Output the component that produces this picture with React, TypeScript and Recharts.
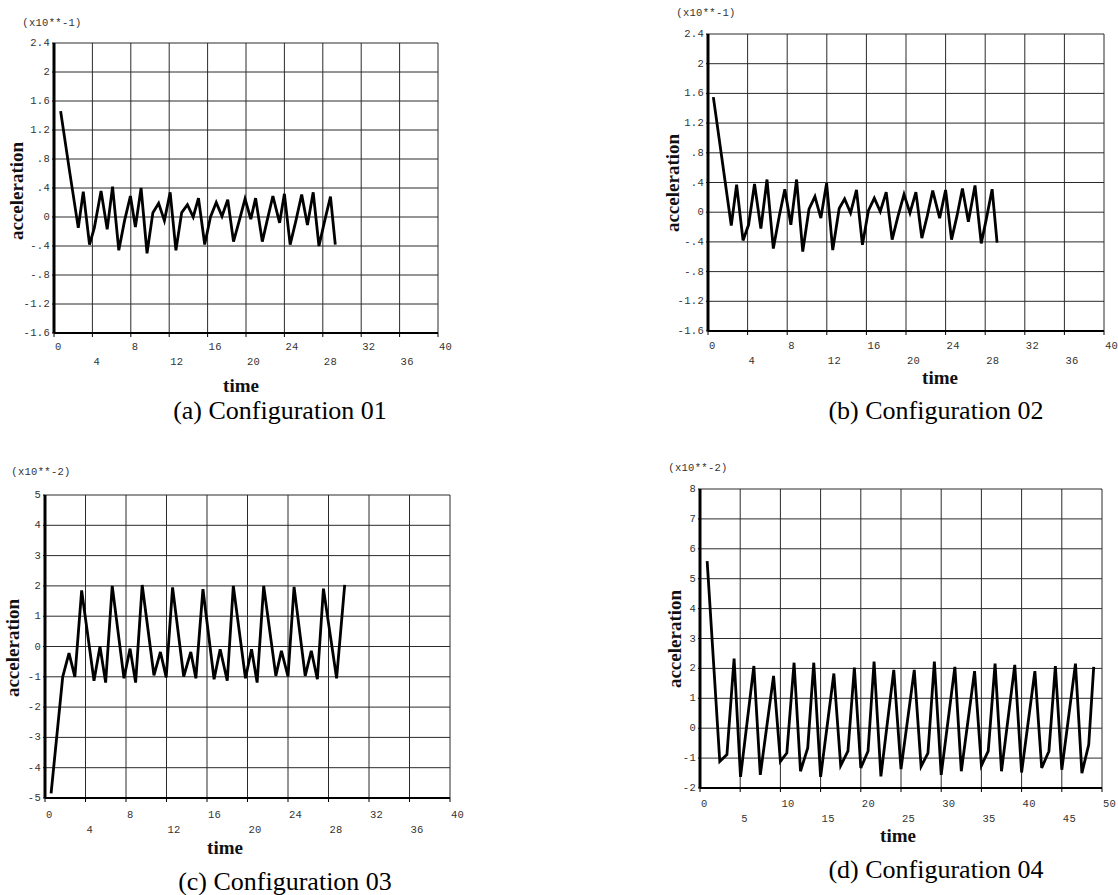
import React from 'react';
import { LineChart, Line, XAxis, YAxis, CartesianGrid } from 'recharts';

// ---------- data ----------
const timeA = [0.69, 1.6, 2.53, 3.05, 3.7, 4.2, 4.9, 5.54, 6.1, 6.75, 7.35, 7.96, 8.48, 9.07, 9.69, 10.3, 10.9, 11.5, 12.1, 12.7, 13.3, 13.9, 14.5, 15.05, 15.7, 16.3, 16.9, 17.5, 18.1, 18.7, 19.3, 19.9, 20.5, 21.0, 21.7, 22.2, 22.8, 23.5, 24.0, 24.6, 25.2, 25.8, 26.4, 27.0, 27.6, 28.2, 28.8, 29.3];
const accelA = [1.46, 0.65, -0.15, 0.35, -0.38, -0.15, 0.36, -0.17, 0.42, -0.46, -0.05, 0.29, -0.14, 0.40, -0.50, 0.06, 0.19, -0.05, 0.34, -0.46, 0.06, 0.17, 0.0, 0.26, -0.38, 0.0, 0.2, 0.01, 0.24, -0.34, -0.05, 0.25, -0.03, 0.26, -0.34, -0.05, 0.29, -0.08, 0.32, -0.38, -0.05, 0.31, -0.11, 0.34, -0.40, -0.05, 0.28, -0.38];

const timeB = [0.54, 2.35, 2.89, 3.54, 4.1, 4.7, 5.34, 5.96, 6.6, 7.2, 7.76, 8.37, 8.95, 9.57, 10.2, 10.8, 11.4, 11.98, 12.6, 13.25, 13.8, 14.4, 15.0, 15.6, 16.2, 16.8, 17.4, 18.0, 18.6, 19.2, 19.8, 20.4, 21.0, 21.6, 22.15, 22.7, 23.4, 24.0, 24.6, 25.15, 25.7, 26.3, 26.97, 27.6, 28.1, 28.7, 29.2];
const accelB = [1.55, -0.18, 0.37, -0.38, -0.17, 0.38, -0.22, 0.44, -0.49, -0.05, 0.31, -0.17, 0.44, -0.53, 0.04, 0.21, -0.08, 0.39, -0.51, 0.05, 0.18, -0.01, 0.30, -0.44, 0.02, 0.19, 0.01, 0.27, -0.37, -0.05, 0.24, -0.01, 0.27, -0.35, -0.05, 0.29, -0.08, 0.30, -0.37, -0.05, 0.32, -0.13, 0.36, -0.42, -0.1, 0.31, -0.41];

const timeC = [0.6, 1.75, 2.37, 2.95, 3.62, 4.84, 5.43, 5.99, 6.64, 7.8, 8.4, 8.95, 9.6, 10.76, 11.4, 11.97, 12.6, 13.7, 14.4, 14.9, 15.6, 16.7, 17.3, 18.0, 18.6, 19.8, 20.4, 20.95, 21.6, 22.8, 23.35, 24.0, 24.6, 25.7, 26.3, 26.9, 27.5, 28.8, 29.6];
const accelC = [-4.85, -1.0, -0.22, -1.0, 1.85, -1.13, 0, -1.19, 2.0, -1.05, -0.07, -1.19, 2.03, -0.95, -0.18, -1.02, 1.95, -0.99, -0.18, -1.05, 1.89, -1.08, -0.09, -1.13, 2.0, -1.05, -0.09, -1.19, 2.0, -0.97, -0.14, -0.99, 1.97, -0.97, -0.14, -1.08, 1.91, -1.05, 2.03];

const timeD = [0.89, 2.46, 3.35, 4.24, 5.04, 6.7, 7.5, 9.15, 10.0, 10.8, 11.7, 12.5, 13.4, 14.15, 15.0, 16.65, 17.5, 18.4, 19.2, 20.0, 20.9, 21.65, 22.5, 24.1, 25.0, 26.65, 27.5, 28.35, 29.15, 30.0, 31.7, 32.5, 34.15, 35.0, 35.85, 36.7, 37.5, 39.15, 40.0, 41.65, 42.5, 43.4, 44.2, 45.0, 46.7, 47.5, 48.35, 48.97];
const accelD = [5.59, -1.11, -0.88, 2.33, -1.63, 2.08, -1.56, 1.75, -1.11, -0.83, 2.19, -1.44, -0.66, 2.19, -1.63, 1.83, -1.25, -0.77, 2.03, -1.33, -0.77, 2.23, -1.61, 1.95, -1.37, 1.95, -1.28, -0.83, 2.23, -1.56, 2.05, -1.44, 1.91, -1.25, -0.77, 2.16, -1.44, 2.12, -1.48, 1.91, -1.33, -0.77, 2.08, -1.39, 2.16, -1.5, -0.55, 2.05];

const xTicks40 = [0, 4, 8, 12, 16, 20, 24, 28, 32, 36, 40];
const xTicks50 = [0, 5, 10, 15, 20, 25, 30, 35, 40, 45, 50];
const yTicksAB = [-1.6, -1.2, -0.8, -0.4, 0, 0.4, 0.8, 1.2, 1.6, 2, 2.4];
const yLabelsAB = ['-1.6', '-1.2', '-.8', '-.4', '0', '.4', '.8', '1.2', '1.6', '2', '2.4'];
const yTicksC = [-5, -4, -3, -2, -1, 0, 1, 2, 3, 4, 5];
const yLabelsC = ['-5', '-4', '-3', '-2', '-1', '0', '1', '2', '3', '4', '5'];
const yTicksD = [-2, -1, 0, 1, 2, 3, 4, 5, 6, 7, 8];
const yLabelsD = ['-2', '-1', '0', '1', '2', '3', '4', '5', '6', '7', '8'];

const captions = ['(a) Configuration 01', '(b) Configuration 02', '(c) Configuration 03', '(d) Configuration 04'];
const scaleLabels = ['(x10**-1)', '(x10**-1)', '(x10**-2)', '(x10**-2)'];
const yTitle = 'acceleration';
const xTitle = 'time';

// ---------- layout ----------
type Panel = {
  time: number[]; accel: number[]; xTicks: number[]; yTicks: number[]; yLabels: string[];
  x0: number; x1: number; top: number; bottom: number; row1: number; row2: number;
  caption: string; scale: string;
  scaleX: number; scaleY: number; accX: number; accY: number; timeX: number; timeY: number; capX: number; capY: number;
};

const panels: Panel[] = [
  { time: timeA, accel: accelA, xTicks: xTicks40, yTicks: yTicksAB, yLabels: yLabelsAB,
    x0: 54, x1: 438, top: 43, bottom: 333, row1: 14, row2: 28.5, caption: captions[0], scale: scaleLabels[0],
    scaleX: 52, scaleY: 23, accX: 16, accY: 191, timeX: 241, timeY: 385, capX: 280, capY: 411 },
  { time: timeB, accel: accelB, xTicks: xTicks40, yTicks: yTicksAB, yLabels: yLabelsAB,
    x0: 708, x1: 1104, top: 34, bottom: 331, row1: 15, row2: 29.5, caption: captions[1], scale: scaleLabels[1],
    scaleX: 706, scaleY: 12.5, accX: 671.5, accY: 183, timeX: 940, timeY: 377, capX: 936, capY: 411 },
  { time: timeC, accel: accelC, xTicks: xTicks40, yTicks: yTicksC, yLabels: yLabelsC,
    x0: 45, x1: 450, top: 495, bottom: 798, row1: 16.5, row2: 31.5, caption: captions[2], scale: scaleLabels[2],
    scaleX: 41, scaleY: 472, accX: 12, accY: 648, timeX: 225, timeY: 847, capX: 285, capY: 882 },
  { time: timeD, accel: accelD, xTicks: xTicks50, yTicks: yTicksD, yLabels: yLabelsD,
    x0: 700, x1: 1102, top: 489, bottom: 788, row1: 15.5, row2: 31, caption: captions[3], scale: scaleLabels[3],
    scaleX: 698, scaleY: 468, accX: 674, accY: 639, timeX: 898, timeY: 835, capX: 936, capY: 870 },
];

const ML = 60, MT = 10, MR = 14, MB = 50, YW = 55, XH = 40;
const mono = '"Liberation Mono", "DejaVu Sans Mono", monospace';
const serif = '"Liberation Serif", "DejaVu Serif", serif';

function ChartPanel({ p }: { p: Panel }) {
  const w = p.x1 - p.x0;
  const h = p.bottom - p.top;
  const data = p.time.map((t, i) => ({ t, v: p.accel[i] }));
  const xDomain = [p.xTicks[0], p.xTicks[p.xTicks.length - 1]];
  const yDomain = [p.yTicks[0], p.yTicks[p.yTicks.length - 1]];

  const renderXTick = (props: any) => {
    const { x, y, payload } = props;
    const idx = p.xTicks.findIndex((v) => Math.abs(v - payload.value) < 1e-9);
    const axisY = y - 6;
    const dy = idx % 2 === 0 ? p.row1 : p.row2;
    return (
      <text x={x + 1} y={axisY + dy} textAnchor="start" dominantBaseline="central"
        fontFamily={mono} fontSize={10.5} fill="#333" letterSpacing={0.3}>{payload.value}</text>
    );
  };
  const renderYTick = (props: any) => {
    const { x, y, payload } = props;
    const idx = p.yTicks.findIndex((v) => Math.abs(v - payload.value) < 1e-9);
    return (
      <text x={x} y={y} textAnchor="end" dominantBaseline="central"
        fontFamily={mono} fontSize={10.5} fill="#333" letterSpacing={0.3}>{p.yLabels[idx]}</text>
    );
  };

  return (
    <div style={{ position: 'absolute', left: p.x0 - ML, top: p.top - MT }}>
      <LineChart width={w + ML + MR} height={h + MT + MB} data={data}
        margin={{ top: MT, right: MR, bottom: MB - XH, left: ML - YW }}>
        <CartesianGrid stroke="#2a2a2a" strokeWidth={1} />
        <XAxis type="number" dataKey="t" domain={xDomain} ticks={p.xTicks} interval={0}
          height={XH} tickSize={4} tickMargin={2} allowDataOverflow
          axisLine={{ stroke: '#000', strokeWidth: 2 }} tickLine={{ stroke: '#000', strokeWidth: 1 }}
          tick={renderXTick} />
        <YAxis type="number" domain={yDomain} ticks={p.yTicks} interval={0}
          width={YW} tickSize={2} tickMargin={2} allowDataOverflow
          axisLine={{ stroke: '#000', strokeWidth: 3 }} tickLine={{ stroke: '#000', strokeWidth: 1 }}
          tick={renderYTick} />
        <Line type="linear" dataKey="v" stroke="#000" strokeWidth={2.8} dot={false}
          activeDot={false} isAnimationActive={false} />
      </LineChart>
    </div>
  );
}

const centered = (x: number, y: number): React.CSSProperties => ({
  position: 'absolute', left: x, top: y, transform: 'translate(-50%, -50%)', whiteSpace: 'nowrap', lineHeight: 1,
});

export default function App() {
  return (
    <div style={{ position: 'absolute', left: 0, top: 0, width: 1118, height: 895, background: '#fff', overflow: 'hidden' }}>
      {panels.map((p, i) => (
        <React.Fragment key={i}>
          <ChartPanel p={p} />
          <div style={{ ...centered(p.scaleX, p.scaleY), fontFamily: mono, fontSize: 10.5, color: '#333', letterSpacing: 0.3 }}>{p.scale}</div>
          <div style={{ ...centered(p.accX, p.accY), transform: 'translate(-50%, -50%) rotate(-90deg)', fontFamily: serif, fontWeight: 'bold', fontSize: 19, color: '#111' }}>{yTitle}</div>
          <div style={{ ...centered(p.timeX, p.timeY), fontFamily: serif, fontWeight: 'bold', fontSize: 19, color: '#111' }}>{xTitle}</div>
          <div style={{ ...centered(p.capX, p.capY), fontFamily: serif, fontSize: 26, color: '#000' }}>{p.caption}</div>
        </React.Fragment>
      ))}
    </div>
  );
}
